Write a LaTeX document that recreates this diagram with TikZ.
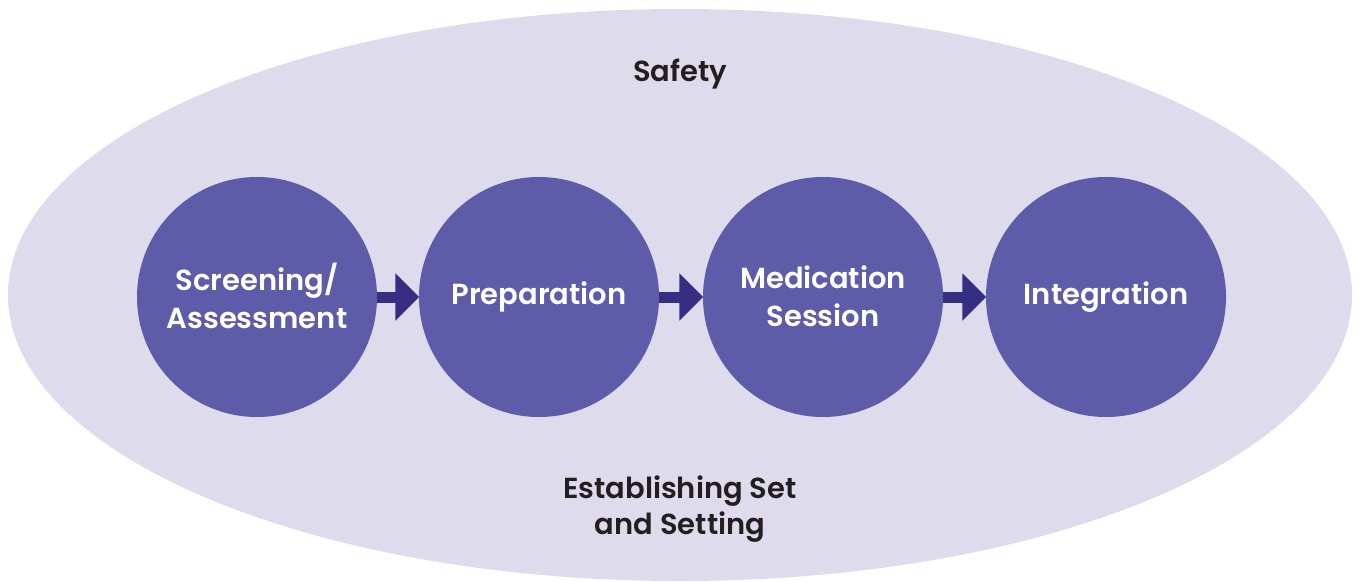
\documentclass[tikz,border=0pt]{standalone}
\usepackage{fontspec}
\setmainfont{Poppins}[BoldFont={* SemiBold}]
\usetikzlibrary{arrows.meta}
\definecolor{ovalfill}{HTML}{DEDBEC}
\definecolor{circfill}{HTML}{5E5BA8}
\definecolor{arrowcol}{HTML}{352E83}
\definecolor{textdark}{HTML}{231F20}
\tikzset{
  stage/.style={circle, fill=circfill, minimum size=240pt, inner sep=0pt},
  stagetext/.style={text=white, font=\fontsize{29}{38}\selectfont\bfseries, align=center},
  label/.style={text=textdark, font=\fontsize{29}{36}\selectfont\bfseries, align=center},
  flow/.style={draw=arrowcol, line width=11pt, -{Triangle[width=46pt,length=24pt]}, shorten <=-0.5pt, shorten >=-0.5pt}
}
\begin{document}
\begin{tikzpicture}[x=1pt,y=-1pt]
\useasboundingbox (0,0) rectangle (1356,581);
\fill[ovalfill] (680,295) ellipse [x radius=672, y radius=286];
\node[stage] (s1) at (257,297) {};
\node[stage] (s2) at (539,297) {};
\node[stage] (s3) at (823,297) {};
\node[stage] (s4) at (1106,297) {};
\node[stagetext] (t1) at (257,296) {Screening/\\Assessment};
\node[stagetext] (t2) at (539,297) {Preparation};
\node[stagetext] (t3) at (823,296) {Medication\\Session};
\node[stagetext] (t4) at (1106,297) {Integration};
\node[label] (safety) at (680,74) {Safety};
\node[label] (set) at (680,509) {Establishing Set\\and Setting};
\draw[flow] (s1.east) -- (s2.west);
\draw[flow] (s2.east) -- (s3.west);
\draw[flow] (s3.east) -- (s4.west);
\end{tikzpicture}
\end{document}
